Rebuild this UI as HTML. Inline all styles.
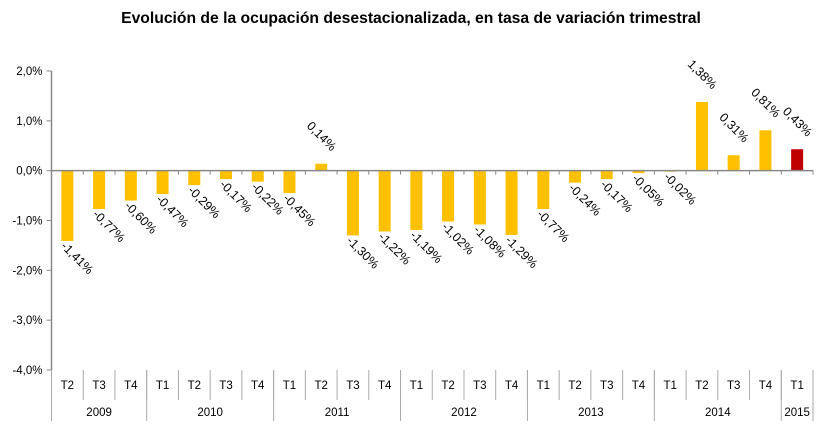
<!DOCTYPE html>
<html><head><meta charset="utf-8"><style>
body{margin:0;background:#fff;font-family:"Liberation Sans",Calibri,sans-serif}
svg text{font-family:"Liberation Sans",sans-serif}
</style></head><body>
<svg id="c" width="821" height="428">
<text x="411" y="23" text-anchor="middle" font-size="15.7" font-weight="bold" fill="#000">Evolución de la ocupación desestacionalizada, en tasa de variación trimestral</text>
</svg>
<script>
const quarters=["T2","T3","T4","T1","T2","T3","T4","T1","T2","T3","T4","T1","T2","T3","T4","T1","T2","T3","T4","T1","T2","T3","T4","T1"];
const years=["2009","2010","2011","2012","2013","2014","2015"];
const yearCounts=[3,4,4,4,4,4,1];
const values=[-1.41,-0.77,-0.60,-0.47,-0.29,-0.17,-0.22,-0.45,0.14,-1.30,-1.22,-1.19,-1.02,-1.08,-1.29,-0.77,-0.24,-0.17,-0.05,-0.02,1.38,0.31,0.81,0.43];
const yTicks=[2,1,0,-1,-2,-3,-4];
const svg=document.getElementById('c');const NS='http://www.w3.org/2000/svg';
const x0=51.5,x1=813,yTop=71,yBot=370;
const cw=(x1-x0)/values.length;
const y=v=>yTop+(2-v)/6*(yBot-yTop);
const xc=i=>x0+cw*(i+0.5);
function mk(t,a){const e=document.createElementNS(NS,t);for(const k in a)e.setAttribute(k,a[k]);svg.appendChild(e);return e;}
const fmt=v=>v.toFixed(2).replace('.',',')+'%';
let ax=mk('line',{x1:x0,y1:yTop,x2:x0,y2:yBot,stroke:'#888','stroke-width':1.5});


yTicks.forEach(t=>{
 const tk=mk('line',{x1:x0-5,y1:y(t),x2:x0,y2:y(t),stroke:'#888'});
 
 
 const l=mk('text',{x:x0-9,y:y(t)+4,'text-anchor':'end','font-size':11.5,fill:'#000'});
 l.textContent=t.toFixed(1).replace('.',',')+'%';
 
 
});
values.forEach((v,i)=>{
 const bw=12,top=y(Math.max(v,0)),bot=y(Math.min(v,0));
 const r=mk('rect',{x:xc(i)-bw/2,y:top,width:bw,height:Math.max(bot-top,0.5),fill:i===values.length-1?'#C00000':'#FFC000'});
 
 
 let lx,ly,anchor;
 if(v>=0){lx=xc(i)+10;ly=top-12;anchor='end';}else{lx=xc(i)-7;ly=bot+6;anchor='start';}
 const t=mk('text',{x:lx,y:ly,'text-anchor':anchor,'font-size':12.5,fill:'#000',transform:`rotate(45 ${lx} ${ly})`});
 t.textContent=fmt(v);
 
 
});
const z=mk('line',{x1:x0,y1:y(0),x2:x1,y2:y(0),stroke:'#888','stroke-width':1.5});


for(let i=0;i<=values.length;i++){
 const tk=mk('line',{x1:x0+cw*i,y1:y(0),x2:x0+cw*i,y2:y(0)+4,stroke:'#888'});
 
 
}
quarters.forEach((q,i)=>{
 const t=mk('text',{x:xc(i),y:389,'text-anchor':'middle','font-size':11.5,fill:'#000'});
 t.textContent=q;
 
 
 if(i>0){const l=mk('line',{x1:x0+cw*i,y1:yBot,x2:x0+cw*i,y2:400,stroke:'#aaa'});
 
 }
});
let s=0;
const b0=mk('line',{x1:x0,y1:yBot,x2:x0,y2:421,stroke:'#aaa'});


years.forEach((yr,k)=>{
 const e=s+yearCounts[k];
 const t=mk('text',{x:x0+cw*(s+e)/2,y:416,'text-anchor':'middle','font-size':11.5,fill:'#000'});
 t.textContent=yr;
 
 
 const l=mk('line',{x1:x0+cw*e,y1:yBot,x2:x0+cw*e,y2:421,stroke:'#aaa'});
 
 
 s=e;
});
</script>
</body></html>
